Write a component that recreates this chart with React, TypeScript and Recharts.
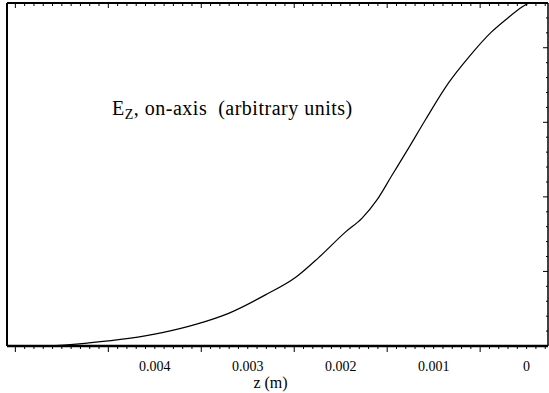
import React from "react";
import { LineChart, Line, XAxis, YAxis } from "recharts";

// on-axis field profile, z in metres (axis runs from large z on the left to 0 on the right)
const zValues = [
  0.0056, 0.00514, 0.00471, 0.00428, 0.00392, 0.00356, 0.0032, 0.00281,
  0.00248, 0.00224, 0.00195, 0.00177, 0.00161, 0.00145, 0.00127, 0.00109,
  0.00084, 0.00062, 0.00038, 0.00019, 0.00005, -0.00002,
];
const ezValues = [
  0, 0.001, 0.009, 0.022, 0.039, 0.063, 0.096, 0.149, 0.201, 0.257, 0.332,
  0.373, 0.426, 0.497, 0.577, 0.659, 0.767, 0.843, 0.915, 0.959, 0.988, 1.0,
];

const tickValues = [0.004, 0.003, 0.002, 0.001, 0];
const tickLabels = ["0.004", "0.003", "0.002", "0.001", "0"];

const data = zValues.map((z, i) => ({ z, ez: ezValues[i] }));

const X_DOMAIN = [-0.00023, 0.00559];
const minorX: number[] = [];
for (let i = -2; i <= 55; i++) minorX.push(i / 10000);
const minorY: number[] = [];
for (let i = 0; i <= 23; i++) minorY.push(i / 23);

const FONT = "'Liberation Serif', 'Times New Roman', Times, 'DejaVu Serif', serif";

const BottomTick = (props: any) => {
  const { x, y, payload } = props;
  const v = payload.value;
  const k = Math.round(v * 10000);
  const major = ((k % 10) + 10) % 10 === 5;
  const idx = tickValues.findIndex((t) => Math.abs(t - v) < 1e-7);
  return (
    <g>
      <line x1={x} x2={x} y1={y} y2={y + (major ? 6 : 3)} stroke="#000" strokeWidth={1} />
      {idx >= 0 && (
        <text x={x} y={y + 25} textAnchor="middle" fontSize={14} fontFamily={FONT} fill="#000">
          {tickLabels[idx]}
        </text>
      )}
    </g>
  );
};

const TopTick = (props: any) => {
  const { x, y, payload } = props;
  const k = Math.round(payload.value * 10000);
  const major = ((k % 10) + 10) % 10 === 5;
  return <line x1={x} x2={x} y1={y} y2={y + (major ? 5 : 3)} stroke="#000" strokeWidth={1} />;
};

const RightTick = (props: any) => {
  const { x, y, index } = props;
  const major = index % 5 === 0;
  return <line x1={x} x2={x - (major ? 5 : 2)} y1={y} y2={y} stroke="#000" strokeWidth={1} />;
};

export default function App() {
  return (
    <div style={{ position: "absolute", left: 0, top: 0, width: 549, height: 393, background: "#fff" }}>
      <LineChart
        width={549}
        height={393}
        data={data}
        margin={{ top: 2, right: 0, left: 6, bottom: 0 }}
      >
        <XAxis
          xAxisId="b"
          dataKey="z"
          type="number"
          domain={X_DOMAIN}
          allowDataOverflow
          reversed
          ticks={minorX}
          interval={0}
          tickSize={0}
          tickMargin={0}
          tickLine={false}
          tick={<BottomTick />}
          height={47}
          axisLine={{ stroke: "#000", strokeWidth: 2.5 }}
          label={{
            value: "z (m)",
            position: "insideBottom",
            offset: 5,
            dx: -7,
            fontSize: 16,
            fontFamily: FONT,
            fill: "#000",
          }}
        />
        <XAxis
          xAxisId="t"
          orientation="top"
          dataKey="z"
          type="number"
          domain={X_DOMAIN}
          allowDataOverflow
          reversed
          ticks={minorX}
          interval={0}
          tickSize={0}
          tickMargin={0}
          tickLine={false}
          tick={<TopTick />}
          height={1}
          axisLine={{ stroke: "#000", strokeWidth: 2 }}
        />
        <YAxis
          yAxisId="l"
          domain={[0, 1]}
          allowDataOverflow
          width={1}
          tick={false}
          tickLine={false}
          axisLine={{ stroke: "#000", strokeWidth: 2 }}
        />
        <YAxis
          yAxisId="r"
          orientation="right"
          domain={[0, 1]}
          allowDataOverflow
          ticks={minorY}
          interval={0}
          width={1}
          tickSize={0}
          tickMargin={0}
          tickLine={false}
          tick={<RightTick />}
          axisLine={{ stroke: "#000", strokeWidth: 1.5 }}
        />
        <Line
          xAxisId="b"
          yAxisId="l"
          dataKey="ez"
          type="monotone"
          stroke="#000"
          strokeWidth={1.2}
          dot={false}
          isAnimationActive={false}
        />
      </LineChart>
      <div
        style={{
          position: "absolute",
          left: 112,
          top: 98,
          fontFamily: FONT,
          fontSize: 20,
          letterSpacing: 0.5,
          color: "#000",
          whiteSpace: "pre",
          lineHeight: 1,
        }}
      >
        E<sub style={{ fontSize: 14, verticalAlign: "-4px" }}>Z</sub>, on-axis  (arbitrary units)
      </div>
    </div>
  );
}
